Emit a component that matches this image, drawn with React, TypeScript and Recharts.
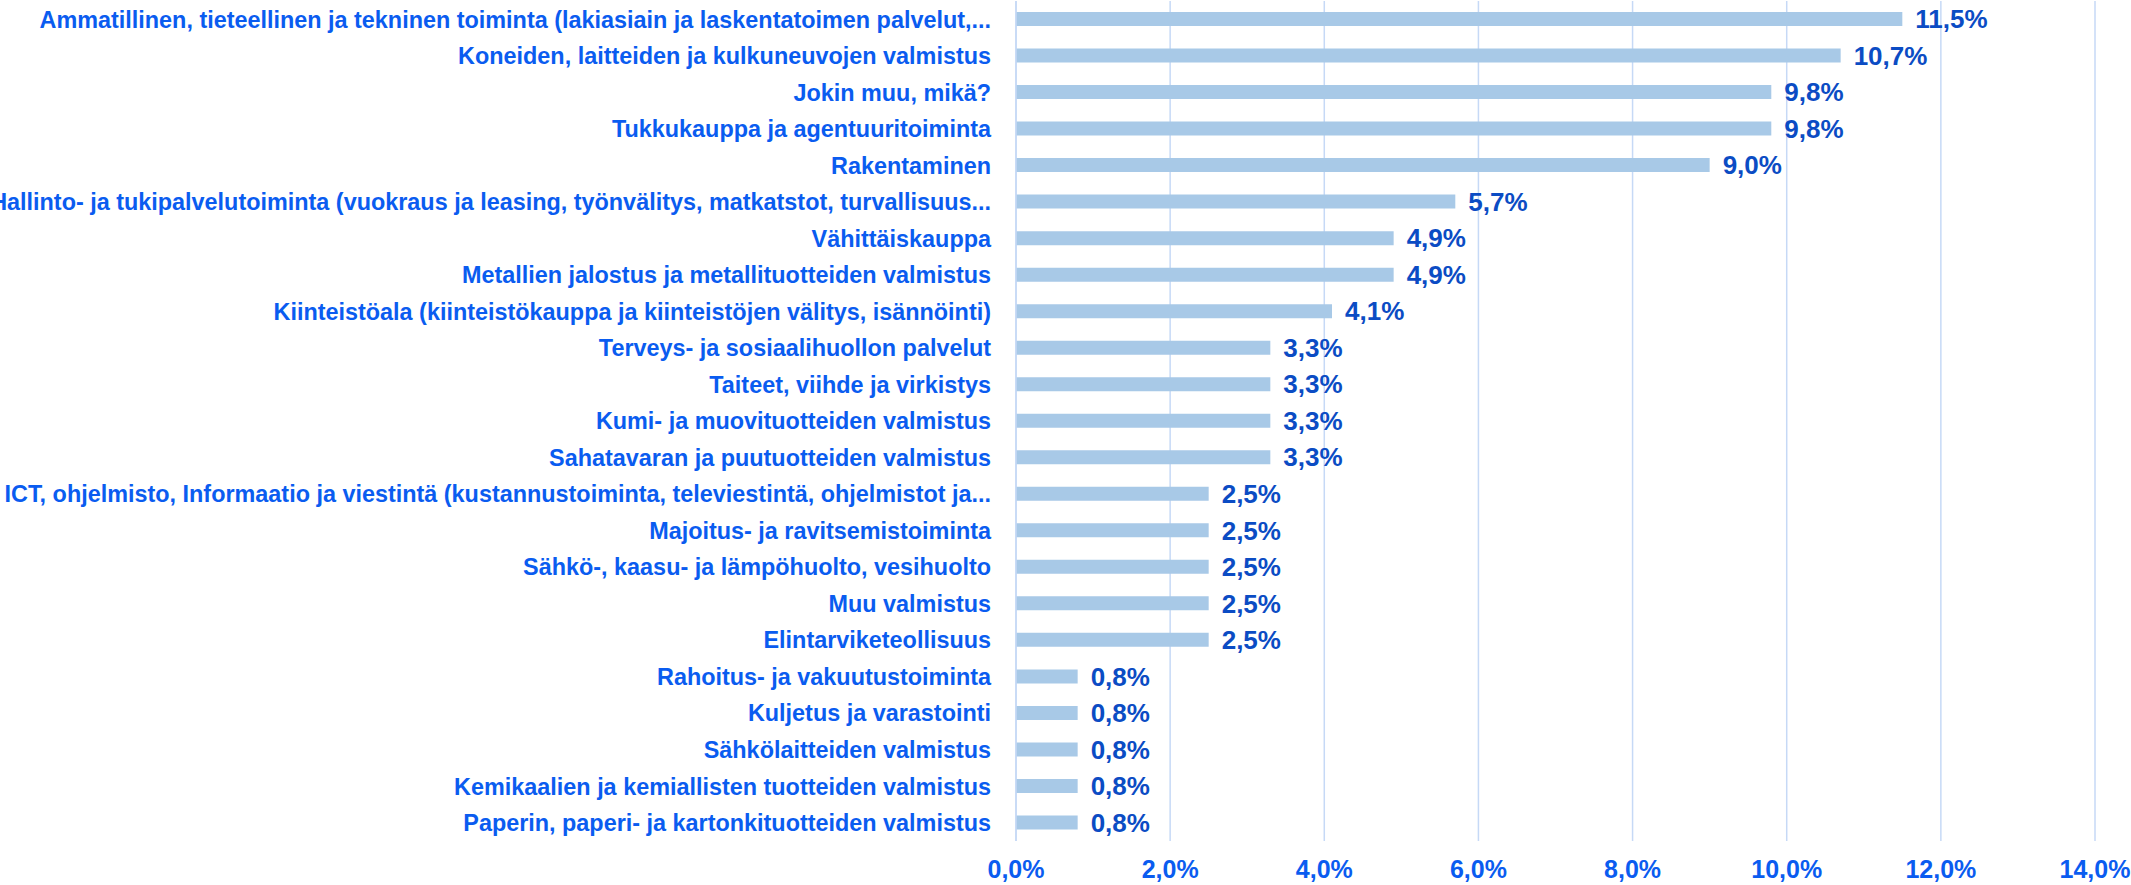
import React from "react";
import { BarChart, Bar, XAxis, YAxis, CartesianGrid, LabelList } from "recharts";

const categories = [
  "Ammatillinen, tieteellinen ja tekninen toiminta (lakiasiain ja laskentatoimen palvelut,...",
  "Koneiden, laitteiden ja kulkuneuvojen valmistus",
  "Jokin muu, mikä?",
  "Tukkukauppa ja agentuuritoiminta",
  "Rakentaminen",
  "Hallinto- ja tukipalvelutoiminta (vuokraus ja leasing, työnvälitys, matkatstot, turvallisuus...",
  "Vähittäiskauppa",
  "Metallien jalostus ja metallituotteiden valmistus",
  "Kiinteistöala (kiinteistökauppa ja kiinteistöjen välitys, isännöinti)",
  "Terveys- ja sosiaalihuollon palvelut",
  "Taiteet, viihde ja virkistys",
  "Kumi- ja muovituotteiden valmistus",
  "Sahatavaran ja puutuotteiden valmistus",
  "ICT, ohjelmisto, Informaatio ja viestintä (kustannustoiminta, televiestintä, ohjelmistot ja...",
  "Majoitus- ja ravitsemistoiminta",
  "Sähkö-, kaasu- ja lämpöhuolto, vesihuolto",
  "Muu valmistus",
  "Elintarviketeollisuus",
  "Rahoitus- ja vakuutustoiminta",
  "Kuljetus ja varastointi",
  "Sähkölaitteiden valmistus",
  "Kemikaalien ja kemiallisten tuotteiden valmistus",
  "Paperin, paperi- ja kartonkituotteiden valmistus",
];

const shares = [
  11.5, 10.7, 9.8, 9.8, 9.0, 5.7, 4.9, 4.9, 4.1, 3.3, 3.3, 3.3, 3.3,
  2.5, 2.5, 2.5, 2.5, 2.5, 0.8, 0.8, 0.8, 0.8, 0.8,
];

const xTicks = [0, 2, 4, 6, 8, 10, 12, 14];

const data = categories.map((name, i) => ({ name, value: shares[i] }));

const pct = (v: number) => v.toFixed(1).replace(".", ",") + "%";

const FONT = "'Liberation Sans', Arial, sans-serif";

export default function App() {
  return (
    <div style={{ position: "absolute", left: 0, top: 0, background: "#fff" }}>
      <BarChart
        width={2131}
        height={885}
        data={data}
        layout="vertical"
        margin={{ top: 1, right: 36, bottom: 0, left: 0 }}
      >
        <CartesianGrid horizontal={false} stroke="#c6d9f6" strokeWidth={1.5} />
        <XAxis
          type="number"
          domain={[0, 14]}
          ticks={xTicks}
          tickFormatter={pct}
          axisLine={false}
          tickLine={false}
          tickSize={0}
          tickMargin={19}
          height={44}
          tick={{ fill: "#0a5cf0", fontSize: 25, fontWeight: 700, fontFamily: FONT }}
        />
        <YAxis
          type="category"
          dataKey="name"
          width={1016}
          interval={0}
          tickLine={false}
          tickSize={0}
          tickMargin={25}
          axisLine={{ stroke: "#c6d9f6", strokeWidth: 1.5 }}
          tick={{ fill: "#0a5cf0", fontSize: 23.4, fontWeight: 700, fontFamily: FONT }}
        />
        <Bar dataKey="value" fill="#a8c9e7" barSize={14} isAnimationActive={false}>
          <LabelList
            dataKey="value"
            position="right"
            offset={13}
            formatter={(v: any) => pct(Number(v))}
            fill="#0b4cc4"
            fontSize={26}
            fontWeight={700}
            fontFamily={FONT}
          />
        </Bar>
      </BarChart>
    </div>
  );
}
